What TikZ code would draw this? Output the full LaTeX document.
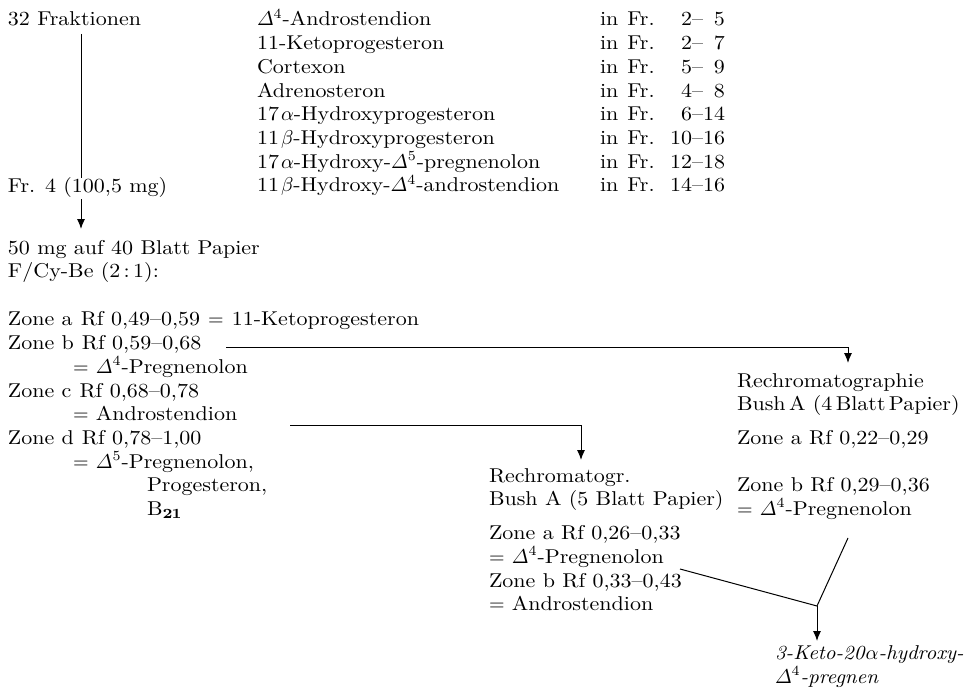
\documentclass[tikz,border=0pt]{standalone}
\usepackage{amsmath}
\usepackage{fontspec}
\setmainfont{Latin Modern Roman}[FakeStretch=1.1,ItalicFeatures={FakeStretch=1.05}]
\usetikzlibrary{arrows.meta}
\begin{document}
\begin{tikzpicture}[x=0.5pt,y=-0.5pt,
  txt/.style={anchor=base west,inner sep=0pt,outer sep=0pt,font=\fontsize{10}{12}\selectfont},
  rtxt/.style={txt,anchor=base east},
  conn/.style={line width=0.5pt},
  arr/.style={conn,-{Latex[length=5pt,width=4pt]}}]
\useasboundingbox (0,0) rectangle (964,690);
% top block
\node[txt] (frak) at (8,26) {32 Fraktionen};
\node[txt] (fr4) at (8,192) {Fr. 4 (100,5 mg)};
\node[txt] (c1) at (257,26.0) {$\varDelta^{4}$-Androstendion};
\node[txt] (c2) at (257,49.7) {11-Ketoprogesteron};
\node[txt] (c3) at (257,73.4) {Cortexon};
\node[txt] (c4) at (257,97.1) {Adrenosteron};
\node[txt] (c5) at (257,120.8) {17\kern1pt$\alpha$-Hydroxyprogesteron};
\node[txt] (c6) at (257,144.5) {11\kern1pt$\beta$-Hydroxyprogesteron};
\node[txt] (c7) at (257,168.2) {17\kern1pt$\alpha$-Hydroxy-$\varDelta^{5}$-pregnenolon};
\node[txt] (c8) at (257,191.9) {11\kern1pt$\beta$-Hydroxy-$\varDelta^{4}$-androstendion};
\node[txt] (i1) at (600,26.0) {in\hspace{0.45em}Fr.};
\node[txt] (i2) at (600,49.7) {in\hspace{0.45em}Fr.};
\node[txt] (i3) at (600,73.4) {in\hspace{0.45em}Fr.};
\node[txt] (i4) at (600,97.1) {in\hspace{0.45em}Fr.};
\node[txt] (i5) at (600,120.8) {in\hspace{0.45em}Fr.};
\node[txt] (i6) at (600,144.5) {in\hspace{0.45em}Fr.};
\node[txt] (i7) at (600,168.2) {in\hspace{0.45em}Fr.};
\node[txt] (i8) at (600,191.9) {in\hspace{0.45em}Fr.};
\node[rtxt] (n1) at (725,26.0) {2--\phantom{1}5};
\node[rtxt] (n2) at (725,49.7) {2--\phantom{1}7};
\node[rtxt] (n3) at (725,73.4) {5--\phantom{1}9};
\node[rtxt] (n4) at (725,97.1) {4--\phantom{1}8};
\node[rtxt] (n5) at (725,120.8) {6--14};
\node[rtxt] (n6) at (725,144.5) {10--16};
\node[rtxt] (n7) at (725,168.2) {12--18};
\node[rtxt] (n8) at (725,191.9) {14--16};
% left column
\node[txt] (mg50) at (8,254) {50 mg auf 40 Blatt Papier};
\node[txt] (fcy) at (8,277) {F/Cy-Be (2\,:\,1):};
\node[txt] (za) at (8,325) {Zone a\hspace{0.4em}Rf 0,49--0,59\hspace{0.4em}$=$\hspace{0.4em}11-Ketoprogesteron};
\node[txt] (zb) at (8,349) {Zone b\hspace{0.4em}Rf 0,59--0,68};
\node[txt] (zbp) at (73,373) {$=$ $\varDelta^{4}$-Pregnenolon};
\node[txt] (zc) at (8,397) {Zone c\hspace{0.4em}Rf 0,68--0,78};
\node[txt] (zcp) at (73,420) {$=$ Androstendion};
\node[txt] (zd) at (8,444) {Zone d\hspace{0.4em}Rf 0,78--1,00};
\node[txt] (zdp) at (73,468) {$=$ $\varDelta^{5}$-Pregnenolon,};
\node[txt] (zdp2) at (147,491) {Progesteron,};
\node[txt] (zdp3) at (147,515) {B$_{\mathbf{21}}$};
% right column
\node[txt] (r1) at (737,387) {Rechromatographie};
\node[txt] (r2) at (737,410) {\textsc{Bush}\,A (4\,Blatt\,Papier)};
\node[txt] (r3) at (737,444) {Zone a Rf 0,22--0,29};
\node[txt] (r4) at (737,491) {Zone b Rf 0,29--0,36};
\node[txt] (r5) at (737,515) {$=$ $\varDelta^{4}$-Pregnenolon};
% middle column
\node[txt] (m1) at (489,482) {Rechromatogr.};
\node[txt] (m2) at (489,505) {\textsc{Bush} A (5 Blatt Papier)};
\node[txt] (m3) at (489,539) {Zone a Rf 0,26--0,33};
\node[txt] (m4) at (489,563) {$=$ $\varDelta^{4}$-Pregnenolon};
\node[txt] (m5) at (489,587) {Zone b Rf 0,33--0,43};
\node[txt] (m6) at (489,610) {$=$ Androstendion};
% result
\node[txt] (k1) at (775,659) {\textit{3-Keto-20\kern0.5pt$\alpha$-hydroxy-}};
\node[txt] (k2) at (775,683) {$\varDelta^{4}$\textit{-pregnen}};
% connector points
\coordinate (p1) at (81,34);
\coordinate (p2) at (81,178);
\coordinate (p3) at (81,199);
\coordinate (p4) at (81,229);
\coordinate (q1) at (226,347);
\coordinate (q2) at (848,363);
\coordinate (s1) at (290,425);
\coordinate (s2) at (581,460);
\coordinate (t1) at (680,569);
\coordinate (t2) at (848,538);
\coordinate (tj) at (817,606);
\coordinate (t3) at (817,641);
\draw[conn] (p1) -- (p2);
\draw[arr] (p3) -- (p4);
\draw[arr] (q1) -| (q2);
\draw[arr] (s1) -| (s2);
\draw[conn] (t1) -- (tj) -- (t2);
\draw[arr] (tj) -- (t3);
\end{tikzpicture}
\end{document}
